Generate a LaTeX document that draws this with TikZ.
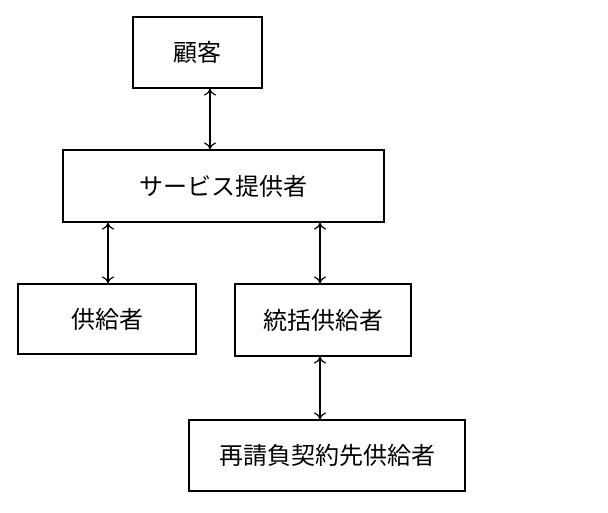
\documentclass[tikz,border=0pt]{standalone}
\usepackage{fontspec}
\newfontfamily\cjk{Noto Sans CJK JP}
\usetikzlibrary{arrows.meta}
\begin{document}
\begin{tikzpicture}[x=1pt,y=-1pt,
  box/.style={draw,line width=1.2pt,inner sep=0pt,font=\cjk\fontsize{24}{28}\selectfont},
  link/.style={line width=1.2pt,{To[length=7pt,width=12pt]}-{To[length=7pt,width=12pt]}}]
\useasboundingbox (0,0) rectangle (608,512);
\node[box,minimum width=129pt,minimum height=71pt] (c) at (197.5,52.5) {顧客};
\node[box,minimum width=321pt,minimum height=72pt] (s) at (223.5,186) {サービス提供者};
\node[box,minimum width=178pt,minimum height=70pt] (k) at (107,319) {供給者};
\node[box,minimum width=176pt,minimum height=72pt] (t) at (323,320) {統括供給者};
\node[box,minimum width=276pt,minimum height=71pt] (r) at (327,455.5) {再請負契約先供給者};
\draw[link] (c.south -| 210,0) -- (s.north -| 210,0);
\draw[link] (s.south -| 108,0) -- (k.north -| 108,0);
\draw[link] (s.south -| 320,0) -- (t.north -| 320,0);
\draw[link] (t.south -| 320,0) -- (r.north -| 320,0);
\end{tikzpicture}
\end{document}
